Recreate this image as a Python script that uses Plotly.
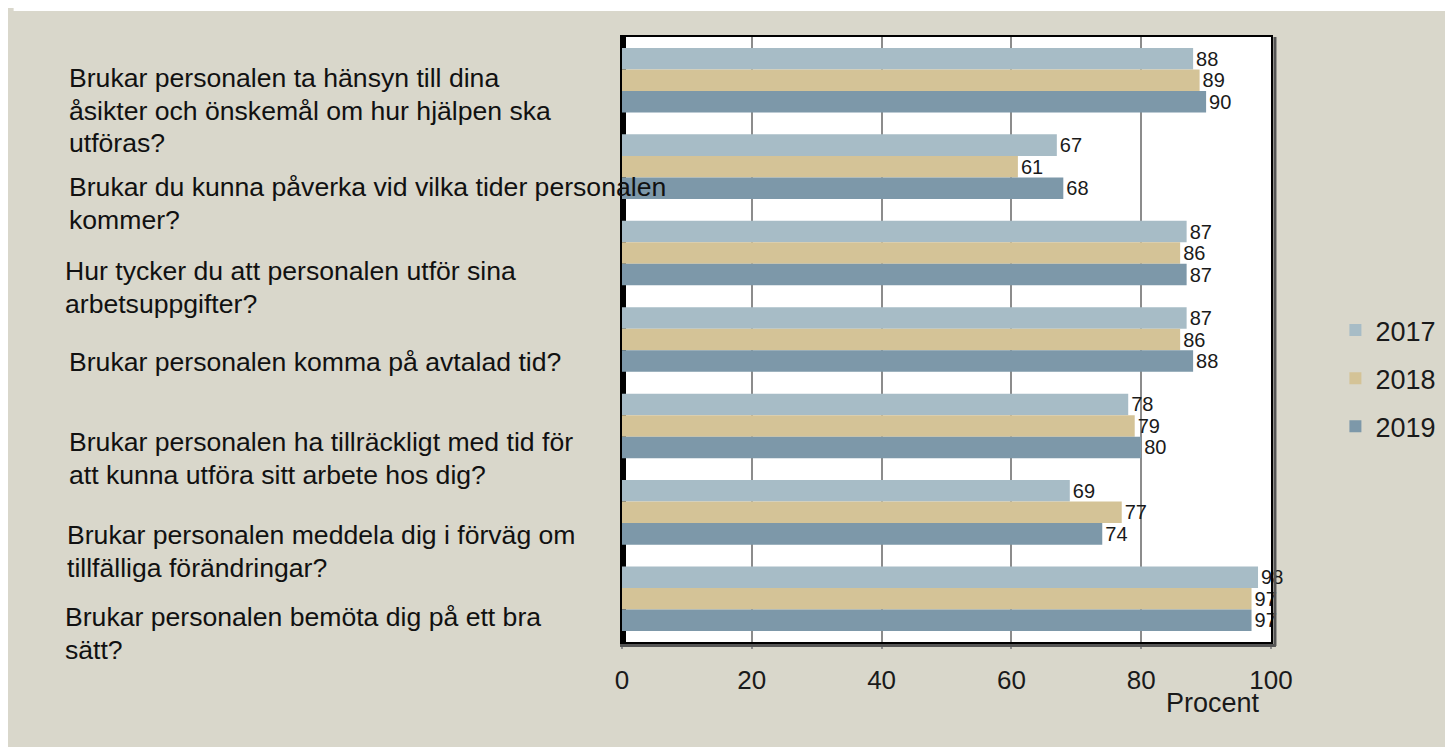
import plotly.graph_objects as go

categories = [
    "Brukar personalen ta hänsyn till dina<br>åsikter och önskemål om hur hjälpen ska<br>utföras?",
    "Brukar du kunna påverka vid vilka tider personalen<br>kommer?",
    "Hur tycker du att personalen utför sina<br>arbetsuppgifter?",
    "Brukar personalen komma på avtalad tid?",
    "Brukar personalen ha tillräckligt med tid för<br>att kunna utföra sitt arbete hos dig?",
    "Brukar personalen meddela dig i förväg om<br>tillfälliga förändringar?",
    "Brukar personalen bemöta dig på ett bra<br>sätt?",
]
years = ["2017", "2018", "2019"]
values_2017 = [88, 67, 87, 87, 78, 69, 98]
values_2018 = [89, 61, 86, 86, 79, 77, 97]
values_2019 = [90, 68, 87, 88, 80, 74, 97]
x_ticks = [0, 20, 40, 60, 80, 100]
x_title = "Procent"

series = [values_2017, values_2018, values_2019]
colors = ["#A7BCC6", "#D4C397", "#7D98A9"]

# the page puts the figure 8px from the top-left corner
OFF = 8
W, H = 1453 - OFF, 747 - OFF
# plot area in page pixels
L, R, T, B = 622, 1277, 37, 642
pw, ph = R - L, B - T


def px_x(p):
    return (p - L) / pw


def px_y(p):
    return 1 - (p - T) / ph


FONT = "Arial, Liberation Sans, sans-serif"
BG = "#D9D7CB"

fig = go.Figure()
for name, vals, col in zip(years, series, colors):
    fig.add_trace(go.Bar(
        y=categories, x=vals, name=name, orientation="h",
        marker=dict(color=col, line=dict(width=0)),
        text=[str(v) for v in vals], textposition="outside",
        textfont=dict(family=FONT, size=20, color="#1a1a1a"),
        cliponaxis=False, constraintext="none",
        legendgroup=name,
    ))

shapes = [
    # thin white strip at the top of the picture
    dict(type="rect", xref="paper", yref="paper", layer="below",
         x0=px_x(OFF), x1=px_x(1453), y0=px_y(11), y1=px_y(OFF),
         fillcolor="white", line=dict(width=0)),
    # shadow lines right and bottom
    dict(type="line", xref="paper", yref="paper",
         x0=px_x(1281), x1=px_x(1281), y0=px_y(646), y1=px_y(37),
         line=dict(color="#555555", width=3)),
    dict(type="line", xref="paper", yref="paper",
         x0=px_x(620), x1=px_x(1282), y0=px_y(645.5), y1=px_y(645.5),
         line=dict(color="#555555", width=3)),
    # thicker axis edge below bars
    dict(type="line", xref="x", yref="paper", layer="below",
         x0=0, x1=0, y0=0, y1=1, line=dict(color="black", width=8)),
]

label_layout = [  # (left px, first-line center px) of each question text block
    (64, 78), (64, 187), (60, 271), (64, 362),
    (64, 442), (62, 535), (60, 617),
]
LINE_H = 32.5
annotations = []
for text, (lx, cy) in zip(categories, label_layout):
    for i, line in enumerate(text.split("<br>")):
        annotations.append(dict(
            text=line, xref="paper", yref="paper", x=px_x(lx),
            y=px_y(cy + i * LINE_H),
            xanchor="left", yanchor="middle", align="left", showarrow=False,
            borderpad=0, borderwidth=0,
            font=dict(family=FONT, size=26.6, color="#111111"),
        ))
annotations.append(dict(
    text=x_title, xref="paper", yref="paper", x=px_x(1218), y=px_y(703),
    xanchor="center", yanchor="middle", showarrow=False,
    font=dict(family=FONT, size=27, color="#1a1a1a"),
))

fig.update_layout(
    width=W, height=H,
    margin=dict(l=L - OFF, r=1453 - R, t=T - OFF, b=747 - B, pad=0),
    paper_bgcolor=BG, plot_bgcolor="white",
    barmode="group", bargap=0.253, bargroupgap=0,
    showlegend=True,
    legend=dict(
        x=px_x(1342), y=px_y(306), xanchor="left", yanchor="top",
        font=dict(family=FONT, size=27, color="#1a1a1a"),
        traceorder="grouped", tracegroupgap=10, bgcolor="rgba(0,0,0,0)",
    ),
    xaxis=dict(
        range=[0, 100], tickvals=x_ticks, ticktext=[str(t) for t in x_ticks],
        showgrid=True, gridcolor="#8c8c8c", gridwidth=2, zeroline=False,
        showline=True, linecolor="black", linewidth=2, mirror=True,
        ticks="outside", ticklen=5, tickwidth=2, tickcolor="#8c8c8c",
        ticklabelstandoff=9,
        tickfont=dict(family=FONT, size=26, color="#1a1a1a"),
    ),
    yaxis=dict(
        autorange="reversed", showticklabels=False, ticks="",
        showgrid=False, zeroline=False,
        showline=True, linecolor="black", linewidth=2, mirror=True,
    ),
    shapes=shapes, annotations=annotations,
)

fig.write_html("out.html", post_script="document.body.style.overflow='hidden';")
